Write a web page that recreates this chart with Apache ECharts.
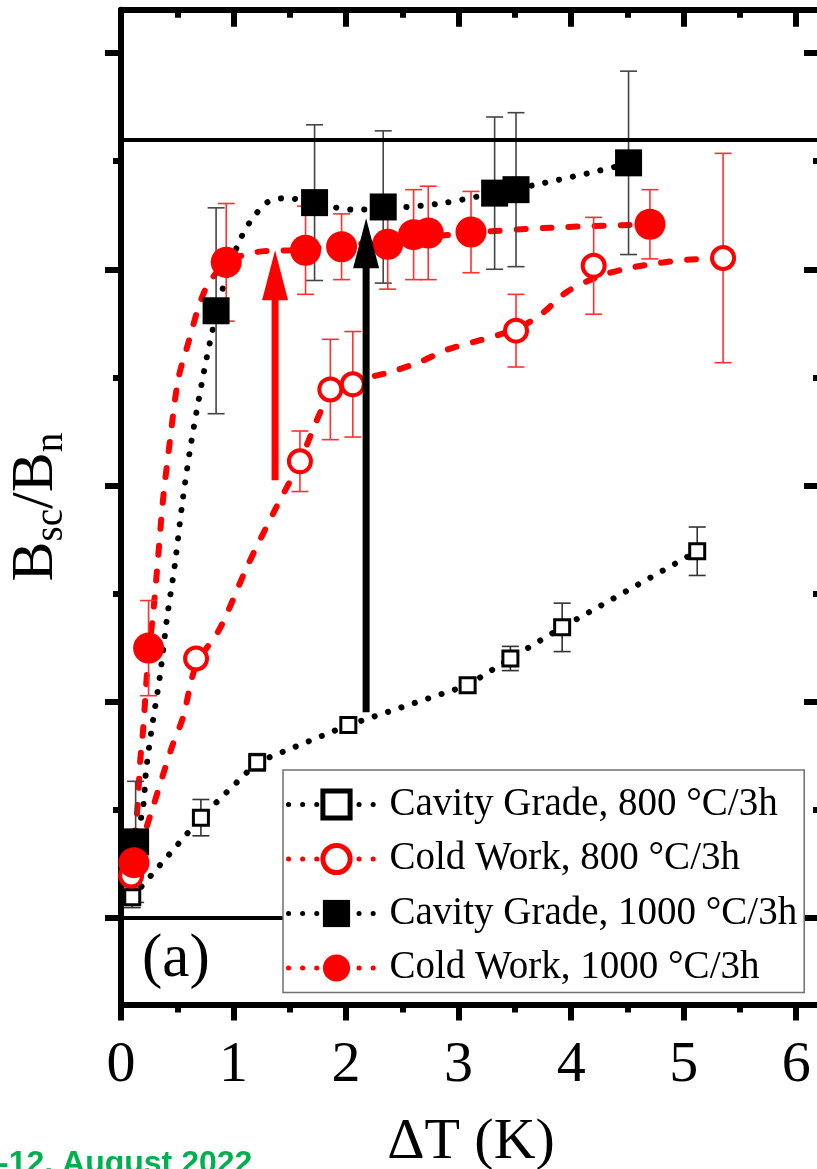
<!DOCTYPE html>
<html><head><meta charset="utf-8">
<script src="https://cdn.jsdelivr.net/npm/echarts@6/dist/echarts.min.js"></script>
<style>html,body{margin:0;padding:0;background:#fff}#c{width:817px;height:1169px}</style>
</head><body><div id="c"></div>
<script>
// ---- tick values ----
const xTicks = [0, 1, 2, 3, 4, 5, 6];
const xMinorTicks = [0.5, 1.5, 2.5, 3.5, 4.5, 5.5];
const yTicks = [0, 0.25, 0.5, 0.75, 1.0];
const yMinorTicks = [0.125, 0.375, 0.625, 0.875];
const refLines = [0, 0.9];

// ---- series names ----
const names = ['Cavity Grade, 800 °C/3h', 'Cold Work, 800 °C/3h', 'Cavity Grade, 1000 °C/3h', 'Cold Work, 1000 °C/3h'];

// ---- Cavity Grade, 800 C/3h ----
const cg800X = [0.10, 0.71, 1.21, 2.02, 3.08, 3.46, 3.92, 5.12];
const cg800Y = [0.024, 0.116, 0.180, 0.223, 0.269, 0.300, 0.336, 0.424];
const cg800Err = [0.012, 0.021, 0.010, 0.006, 0.008, 0.014, 0.028, 0.028];

// ---- Cold Work, 800 C/3h ----
const cw800X = [0.09, 0.667, 1.59, 1.86, 2.06, 3.51, 4.20, 5.35];
const cw800Y = [0.049, 0.300, 0.528, 0.611, 0.617, 0.679, 0.754, 0.763];
const cw800Err = [0.010, 0.010, 0.035, 0.058, 0.061, 0.042, 0.056, 0.121];

// ---- Cavity Grade, 1000 C/3h ----
const cg1000X = [0.13, 0.845, 1.72, 2.33, 3.32, 3.51, 4.51];
const cg1000Y = [0.088, 0.702, 0.827, 0.822, 0.838, 0.842, 0.873];
const cg1000Err = [0.070, 0.119, 0.090, 0.088, 0.088, 0.089, 0.106];

// ---- Cold Work, 1000 C/3h ----
const cw1000X = [0.115, 0.245, 0.935, 1.64, 1.96, 2.37, 2.60, 2.73, 3.11, 4.70];
const cw1000Y = [0.064, 0.312, 0.758, 0.772, 0.776, 0.779, 0.790, 0.792, 0.793, 0.802];
const cw1000Err = [0.030, 0.055, 0.068, 0.051, 0.038, 0.052, 0.052, 0.054, 0.047, 0.040];

// ---- guide curves ----
const cg1000FitX = [0.124, 0.196, 0.222, 0.267, 0.347, 0.409, 0.480, 0.542, 0.613, 0.693, 0.791, 0.907, 1.031, 1.147, 1.307, 1.440, 1.564, 1.769, 2.053, 2.347, 2.836, 3.280, 3.662, 4.151, 4.507];
const cg1000FitY = [0.084, 0.128, 0.169, 0.214, 0.281, 0.347, 0.410, 0.477, 0.541, 0.601, 0.666, 0.729, 0.776, 0.805, 0.828, 0.832, 0.831, 0.825, 0.819, 0.820, 0.826, 0.837, 0.847, 0.861, 0.872];
const cw1000FitX = [0.080, 0.142, 0.169, 0.196, 0.240, 0.284, 0.320, 0.373, 0.436, 0.507, 0.587, 0.747, 0.942, 1.209, 1.502, 1.947, 2.480, 3.102, 3.813, 4.702];
const cw1000FitY = [0.061, 0.121, 0.179, 0.217, 0.298, 0.350, 0.402, 0.483, 0.553, 0.622, 0.660, 0.726, 0.758, 0.770, 0.772, 0.777, 0.784, 0.792, 0.798, 0.802];
const cw800FitX = [0.089, 0.276, 0.453, 0.551, 0.667, 0.880, 1.120, 1.369, 1.591, 1.742, 1.858, 2.062, 2.391, 2.658, 2.898, 3.191, 3.511, 3.724, 3.964, 4.231, 4.498, 4.773, 5.031, 5.351];
const cw800FitY = [0.049, 0.125, 0.198, 0.232, 0.292, 0.335, 0.406, 0.472, 0.528, 0.576, 0.605, 0.620, 0.631, 0.643, 0.657, 0.668, 0.681, 0.697, 0.724, 0.741, 0.751, 0.757, 0.761, 0.763];

// ---- arrows ----
const arrowX = [1.369, 2.178];
const arrowFrom = [0.506, 0.238];
const arrowTo = [0.772, 0.809];
const arrowColors = ['#ff0000', '#000000'];

const FONT = 'Liberation Serif';
const zip = (xs, ys) => xs.map((x, i) => [x, ys[i]]);

function errSeries(xs, ys, es, color) {
  return {
    type: 'custom', silent: true, z: 3,
    data: xs.map((x, i) => [x, ys[i] - es[i], ys[i] + es[i]]),
    encode: { x: 0, y: [1, 2] },
    renderItem(params, api) {
      const x = api.value(0);
      const p1 = api.coord([x, api.value(1)]);
      const p2 = api.coord([x, api.value(2)]);
      const cw = 8.5;
      const st = { stroke: color, lineWidth: 1.6 };
      return { type: 'group', children: [
        { type: 'line', shape: { x1: p1[0], y1: p1[1], x2: p2[0], y2: p2[1] }, style: st },
        { type: 'line', shape: { x1: p1[0] - cw, y1: p1[1], x2: p1[0] + cw, y2: p1[1] }, style: st },
        { type: 'line', shape: { x1: p2[0] - cw, y1: p2[1], x2: p2[0] + cw, y2: p2[1] }, style: st }
      ]};
    }
  };
}

const dotted = { width: 6, type: [0.1, 14], cap: 'round' };
const dashed = { width: 6, type: [9, 17], cap: 'round' };

const axisCommon = { type: 'value', splitLine: { show: false }, axisLabel: { show: false } };

const option = {
  animation: false,
  backgroundColor: '#fff',
  grid: { left: 121, top: 9.75, width: 700, height: 994.75, containLabel: false, outerBoundsMode: 'none' },
  xAxis: [
    Object.assign({}, axisCommon, {
      min: 0, max: 6.22, position: 'bottom',
      axisLine: { show: true, onZero: false, lineStyle: { color: '#000', width: 6 } },
      axisTick: { show: true, inside: false, length: 16, customValues: xTicks, lineStyle: { color: '#000', width: 6 } },
      axisLabel: { show: true, customValues: xTicks, fontSize: 58, fontFamily: FONT, color: '#000', margin: 32 },
      name: 'ΔT (K)', nameLocation: 'middle', nameGap: 109,
      nameTextStyle: { fontSize: 58, fontFamily: FONT, color: '#000' }
    }),
    Object.assign({}, axisCommon, {
      min: 0, max: 6.22, position: 'bottom',
      axisLine: { show: false, onZero: false },
      axisTick: { show: true, inside: false, length: 8, customValues: xMinorTicks, lineStyle: { color: '#000', width: 6 } }
    }),
    Object.assign({}, axisCommon, {
      min: 0, max: 6.22, position: 'top',
      axisLine: { show: true, onZero: false, lineStyle: { color: '#000', width: 6 } },
      axisTick: { show: true, inside: true, length: 17, customValues: xTicks, lineStyle: { color: '#000', width: 6 } }
    }),
    Object.assign({}, axisCommon, {
      min: 0, max: 6.22, position: 'top',
      axisLine: { show: false, onZero: false },
      axisTick: { show: true, inside: true, length: 8, customValues: xMinorTicks, lineStyle: { color: '#000', width: 6 } }
    })
  ],
  yAxis: [
    Object.assign({}, axisCommon, {
      min: -0.1, max: 1.05, position: 'left',
      axisLine: { show: true, onZero: false, lineStyle: { color: '#000', width: 6 } },
      axisTick: { show: true, inside: false, length: 16, customValues: yTicks, lineStyle: { color: '#000', width: 6 } },
      name: '{b|B}{s|sc}{b|/B}{s|n}', nameLocation: 'middle', nameGap: 50,
      nameTextStyle: { fontSize: 60, fontFamily: FONT, color: '#000',
        rich: { b: { fontSize: 60, fontFamily: FONT, color: '#000' },
                s: { fontSize: 39, fontFamily: FONT, color: '#000', padding: [30, 0, 0, 0] } } }
    }),
    Object.assign({}, axisCommon, {
      min: -0.1, max: 1.05, position: 'left',
      axisLine: { show: false, onZero: false },
      axisTick: { show: true, inside: false, length: 8, customValues: yMinorTicks, lineStyle: { color: '#000', width: 6 } }
    }),
    Object.assign({}, axisCommon, {
      min: -0.1, max: 1.05, position: 'right',
      axisLine: { show: true, onZero: false, lineStyle: { color: '#000', width: 6 } },
      axisTick: { show: true, inside: true, length: 17, customValues: yTicks, lineStyle: { color: '#000', width: 6 } }
    }),
    Object.assign({}, axisCommon, {
      min: -0.1, max: 1.05, position: 'right',
      axisLine: { show: false, onZero: false },
      axisTick: { show: true, inside: true, length: 8, customValues: yMinorTicks, lineStyle: { color: '#000', width: 6 } }
    })
  ],
  legend: {
    orient: 'vertical', left: 283, top: 770,
    data: [
      { name: names[0], itemStyle: { borderWidth: 5 } },
      { name: names[1], itemStyle: { borderWidth: 5 } },
      { name: names[2] },
      { name: names[3] }
    ],
    itemWidth: 96, itemHeight: 34, itemGap: 15.5,
    padding: [15, 7, 5, 3],
    backgroundColor: '#fff', borderColor: '#707070', borderWidth: 1.5,
    textStyle: { fontFamily: FONT, fontSize: 39, color: '#000' },
    lineStyle: { width: 5, type: [0.1, 14], cap: 'round', opacity: 1 },
    selectedMode: false, z: 10
  },
  graphic: [
    { type: 'text', left: 142, top: 929, z: 20,
      style: { text: '(a)', font: '61px "Liberation Serif"', fill: '#000' } },
    { type: 'text', left: -2, top: 1148, z: 20,
      style: { text: '-12, August 2022', font: 'bold 32px "Liberation Sans"', fill: '#00b050' } }
  ],
  series: [
    { type: 'line', data: [], silent: true, z: 1,
      markLine: { silent: true, symbol: 'none', label: { show: false },
        lineStyle: { color: '#000', width: 4, type: 'solid' },
        data: refLines.map(v => ({ yAxis: v })) } },
    Object.assign({ type: 'line', data: zip(cg1000FitX, cg1000FitY), symbol: 'none', smooth: 0.3, silent: true, z: 2,
      lineStyle: Object.assign({ color: '#000' }, dotted) }),
    Object.assign({ type: 'line', data: zip(cw1000FitX, cw1000FitY), symbol: 'none', smooth: 0.3, silent: true, z: 2,
      lineStyle: Object.assign({ color: '#ff0000' }, dashed) }),
    Object.assign({ type: 'line', data: zip(cw800FitX, cw800FitY), symbol: 'none', smooth: 0.3, silent: true, z: 2,
      lineStyle: Object.assign({ color: '#ff0000' }, dashed) }),
    errSeries(cg800X, cg800Y, cg800Err, '#333333'),
    errSeries(cw800X, cw800Y, cw800Err, '#ff3030'),
    errSeries(cg1000X, cg1000Y, cg1000Err, '#444444'),
    errSeries(cw1000X, cw1000Y, cw1000Err, '#ff3030'),
    { name: names[0], type: 'line', data: zip(cg800X, cg800Y), z: 5, showAllSymbol: true,
      symbol: 'rect', symbolSize: 15,
      itemStyle: { color: '#fff', borderColor: '#000', borderWidth: 3 },
      lineStyle: Object.assign({ color: '#000' }, dotted) },
    { name: names[1], type: 'line', data: zip(cw800X, cw800Y), z: 5, showAllSymbol: true,
      symbol: 'circle', symbolSize: 22,
      itemStyle: { color: '#fff', borderColor: '#ff0000', borderWidth: 4 },
      lineStyle: { color: '#ff0000', width: 0, opacity: 0 } },
    { name: names[2], type: 'line', data: zip(cg1000X, cg1000Y), z: 5, showAllSymbol: true,
      symbol: 'rect', symbolSize: 27,
      itemStyle: { color: '#000' },
      lineStyle: { color: '#000', width: 0, opacity: 0 } },
    { name: names[3], type: 'line', data: zip(cw1000X, cw1000Y), z: 6, showAllSymbol: true,
      symbol: 'circle', symbolSize: 31,
      itemStyle: { color: '#ff0000' },
      lineStyle: { color: '#ff0000', width: 0, opacity: 0 } },
    { type: 'custom', silent: true, z: 8,
      data: arrowX.map((x, i) => [x, arrowFrom[i], arrowTo[i]]),
      encode: { x: 0, y: [1, 2] },
      renderItem(params, api) {
        const x = api.value(0);
        const b = api.coord([x, api.value(1)]);
        const t = api.coord([x, api.value(2)]);
        const color = arrowColors[params.dataIndex];
        const headH = 50, headW = 13, shaftW = 7;
        return { type: 'group', children: [
          { type: 'rect', shape: { x: b[0] - shaftW / 2, y: t[1] + headH - 2, width: shaftW, height: b[1] - t[1] - headH + 2 }, style: { fill: color } },
          { type: 'polygon', shape: { points: [[t[0], t[1]], [t[0] - headW, t[1] + headH], [t[0] + headW, t[1] + headH]] }, style: { fill: color } }
        ]};
      } }
  ]
};

const chart = echarts.init(document.getElementById('c'), null, { renderer: 'canvas' });
chart.setOption(option);
</script>
</body></html>
